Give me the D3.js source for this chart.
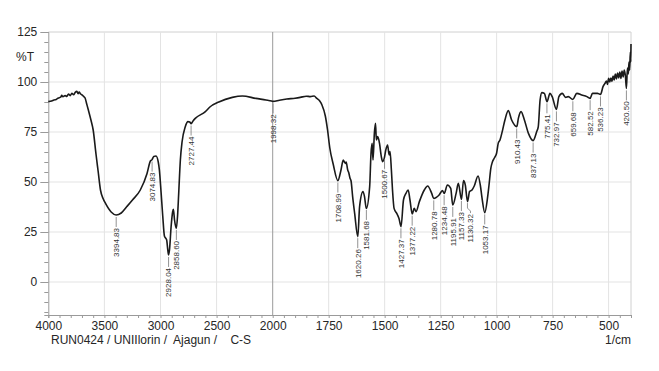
<!DOCTYPE html>
<html>
<head>
<meta charset="utf-8">
<script src="https://cdn.jsdelivr.net/npm/d3@7"></script>
<style>
  html, body { margin: 0; padding: 0; background: #fff; }
  svg { display: block; font-family: "Liberation Sans", Arial, sans-serif; }
</style>
</head>
<body>
<svg id="chart" width="659" height="371"></svg>
<script>
// ---- data ----
const wavenumbers = [4000,3970,3950,3930,3910,3890,3880,3870,3850,3835,3820,3805,3790,3775,3760,3745,3735,3725,3712,3700,3685,3672,3660,3643,3620,3600,3575,3555,3535,3510,3490,3440,3395,3350,3300,3250,3180,3120,3090,3075,3060,3040,3020,3010,2995,2980,2965,2955,2945,2935,2928,2920,2905,2892,2885,2875,2859,2848,2838,2823,2808,2780,2755,2740,2727,2710,2690,2600,2560,2480,2360,2270,2150,2060,2010,1998,1970,1937,1900,1877,1850,1832,1815,1803,1790,1780,1765,1755,1745,1730,1709,1695,1685,1680,1675,1672,1665,1660,1655,1650,1643,1634,1620,1612,1597,1590,1582,1567,1561,1556,1552,1546,1541,1537,1531,1523,1515,1509,1502,1495,1487,1480,1476,1470,1465,1458,1446,1436,1427,1416,1405,1395,1387,1377,1368,1360,1345,1323,1308,1290,1281,1257,1242,1234,1220,1205,1196,1181,1171,1157,1148,1140,1130,1121,1110,1100,1083,1073,1065,1053,1041,1034,1026,1019,1010,1000,993,985,975,963,948,933,910,903,891,876,858,837,821,814,806,798,787,775,762,752,733,722,707,692,680,660,642,620,597,583,572,550,536,525,515,510,505,500,495,490,485,480,475,470,465,460,455,450,445,440,435,430,425,420.5,416,412,409,406,403,401,400];
const transmittance = [90.2,90.5,91.0,91.3,92.0,92.4,93.3,92.6,93.2,92.8,94.0,93.2,94.3,93.6,94.8,95.3,94.2,95.0,94.0,93.6,92.8,92.0,89.5,86.0,81.0,76.0,64.0,55.0,46.0,41.5,39.3,35.0,33.5,34.5,37.7,41.0,46.0,54.3,60.5,61.2,62.8,63.0,60.0,56.0,45.0,33.0,23.0,22.0,21.0,16.0,13.5,16.0,28.0,35.0,36.3,31.0,26.8,33.0,44.0,61.0,70.0,77.5,80.2,80.0,79.2,80.5,81.8,85.2,87.5,90.0,92.3,93.0,91.8,91.0,90.5,90.3,90.9,91.5,91.9,92.3,92.9,92.7,93.0,91.8,90.5,88.5,83.0,76.0,67.0,59.0,50.7,56.0,61.0,60.0,59.3,60.0,56.0,54.5,52.0,50.5,42.7,34.3,22.7,37.7,45.2,42.7,36.8,47.7,64.3,69.3,61.0,74.3,79.3,71.0,72.7,69.3,62.7,60.2,61.8,66.0,68.5,63.5,65.2,56.0,46.0,36.8,34.3,31.8,27.7,41.0,44.3,46.0,41.0,34.0,36.8,35.2,40.2,46.0,48.0,44.3,41.8,43.5,45.7,44.3,48.5,46.8,38.5,44.3,49.3,41.3,50.7,48.5,40.2,45.2,46.0,48.0,53.0,48.5,41.8,34.7,41.8,48.5,56.8,60.0,62.0,64.5,69.3,71.0,75.2,81.0,85.7,81.0,77.7,81.8,85.2,81.0,74.3,70.7,75.2,77.7,91.0,94.7,94.3,90.2,94.3,92.7,86.3,92.7,94.3,92.3,92.7,91.3,94.3,93.5,92.7,91.8,94.3,94.3,93.8,97.7,99.5,100.5,98.8,101.8,100.0,102.0,100.3,103.0,101.0,104.0,101.5,104.5,102.0,105.0,101.8,105.5,102.5,106.0,103.0,96.8,107.0,104.0,110.0,106.0,115.0,110.0,119.0];
const peakLabels = [3394.83,3074.83,2928.04,2858.60,2727.44,1998.32,1708.99,1620.26,1581.68,1500.67,1427.37,1377.22,1280.78,1234.48,1195.91,1157.33,1130.32,1053.17,910.43,837.13,775.41,732.97,659.68,582.52,536.23,420.50];
const xTickLabels = [4000,3500,3000,2500,2000,1750,1500,1250,1000,750,500];
const yTickLabels = [125,100,75,50,25,0];
const yLabel = "%T";
const xUnit = "1/cm";
const footer = "RUN0424 / UNIIlorin /  Ajagun /    C-S";

// ---- scales ----
const svg = d3.select("#chart");
const x = d3.scaleLinear().domain([4000, 2000, 400]).range([48.3, 272.7, 631]);
const y = d3.scaleLinear().domain([-16.5, 125]).range([315, 32]);
const pLeft = x(4000), pRight = x(400), pTop = y(125), pBottom = y(-16.5);
const textCol = "#262626";

// grid
const grid = svg.append("g");
grid.selectAll("line.h").data(yTickLabels).join("line")
  .attr("x1", pLeft).attr("x2", pRight)
  .attr("y1", d => y(d)).attr("y2", d => y(d))
  .attr("stroke", d => d === 125 ? "#d0d0d0" : "#e3e3e3").attr("stroke-width", 1);
grid.selectAll("line.v").data(xTickLabels.filter(d => d !== 4000)).join("line")
  .attr("x1", d => x(d)).attr("x2", d => x(d))
  .attr("y1", pTop).attr("y2", pBottom)
  .attr("stroke", d => d === 2000 ? "#9a9a9a" : "#e3e3e3").attr("stroke-width", 1);
grid.append("line").attr("x1", pRight).attr("x2", pRight).attr("y1", pTop).attr("y2", pBottom)
  .attr("stroke", "#d0d0d0");

// x axis
const minorX = d3.range(4000, 2000, -100).concat(d3.range(2000, 399, -50));
const xAxis = svg.append("g").attr("transform", `translate(0,${pBottom})`)
  .call(d3.axisBottom(x).tickValues(minorX).tickSize(3).tickFormat(""));
xAxis.select(".domain").attr("stroke", "#9a9a9a");
xAxis.selectAll(".tick line").attr("stroke", "#9a9a9a");
const xLab = svg.append("g").attr("transform", `translate(0,${pBottom})`)
  .call(d3.axisBottom(x).tickValues(xTickLabels).tickSize(0).tickPadding(6).tickFormat(d3.format("d")));
xLab.select(".domain").remove();
xLab.selectAll("text").attr("font-size", 12).attr("fill", textCol).style("font-family", "Liberation Sans, Arial, sans-serif");

// y axis
const minorY = d3.range(-15, 126, 5);
const yAxis = svg.append("g").attr("transform", `translate(${pLeft},0)`)
  .call(d3.axisLeft(y).tickValues(minorY).tickSize(4).tickFormat(""));
yAxis.select(".domain").attr("stroke", "#9a9a9a");
yAxis.selectAll(".tick line").attr("stroke", "#9a9a9a");
const yLab = svg.append("g").attr("transform", `translate(${pLeft},0)`)
  .call(d3.axisLeft(y).tickValues(yTickLabels).tickSize(8).tickPadding(3).tickFormat(d3.format("d")));
yLab.select(".domain").remove();
yLab.selectAll(".tick line").attr("stroke", "#9a9a9a");
yLab.selectAll("text").attr("font-size", 12).attr("fill", textCol).style("font-family", "Liberation Sans, Arial, sans-serif");

svg.append("text").attr("x", 25).attr("y", y(112.5)).attr("dy", "0.35em")
  .attr("text-anchor", "middle").attr("font-size", 12).attr("fill", textCol).text(yLabel);

// spectrum
const pts = wavenumbers.map((w, i) => [w, transmittance[i]]);
svg.append("path").datum(pts)
  .attr("fill", "none").attr("stroke", "#1a1a1a").attr("stroke-width", 1.6)
  .attr("stroke-linejoin", "round")
  .attr("d", d3.line().x(d => x(d[0])).y(d => y(d[1])).curve(d3.curveMonotoneX));

// peak labels
function tAt(w) {
  for (let i = 0; i < wavenumbers.length - 1; i++) {
    const a = wavenumbers[i], b = wavenumbers[i + 1];
    if (w <= a && w >= b) {
      const t = (a - w) / (a - b);
      return transmittance[i] + t * (transmittance[i + 1] - transmittance[i]);
    }
  }
  return transmittance[transmittance.length - 1];
}
const lab = svg.append("g");
peakLabels.forEach(p => {
  const px = x(p);
  const py = y(tAt(p)) + 2;
  const dx = p === 1130.32 ? 3 : 0;
  lab.append("path")
    .attr("d", dx ? `M${px},${py}V${py + 5}L${px + dx},${py + 8}V${py + 10}` : `M${px},${py}V${py + 10}`)
    .attr("stroke", "#777").attr("fill", "none").attr("stroke-width", 0.8);
  lab.append("text")
    .attr("transform", `translate(${px + dx},${py + 11}) rotate(-90)`)
    .attr("text-anchor", "end").attr("dy", "0.35em")
    .attr("font-size", 8).attr("fill", "#333")
    .text(p.toFixed(2));
});

// footer
svg.append("text").attr("x", 51).attr("y", 344).attr("font-size", 12).attr("fill", textCol)
  .style("white-space", "pre").attr("xml:space", "preserve").text(footer);
svg.append("text").attr("x", pRight).attr("y", 344).attr("text-anchor", "end")
  .attr("font-size", 12).attr("fill", textCol).text(xUnit);
</script>
</body>
</html>
